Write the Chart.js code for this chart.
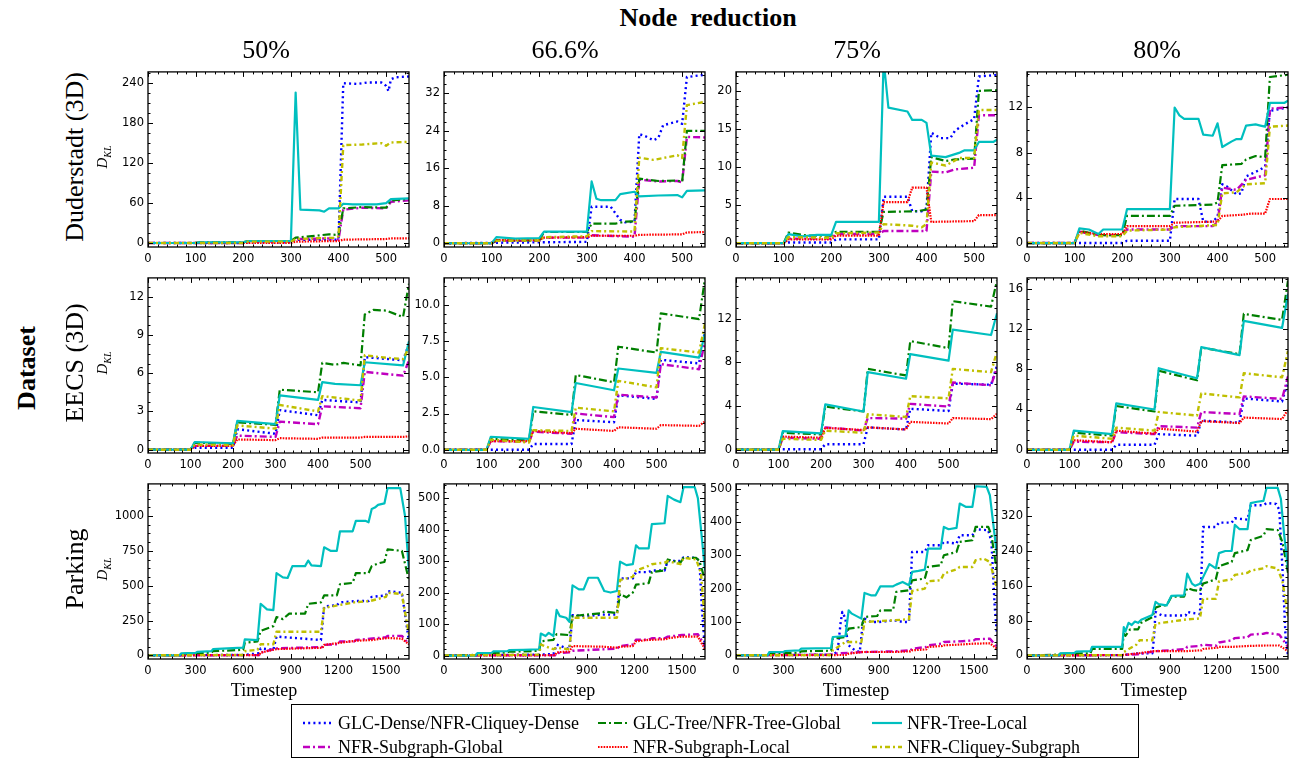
<!DOCTYPE html>
<html><head><meta charset="utf-8">
<script src="https://cdn.jsdelivr.net/npm/chart.js@4.4.1/dist/chart.umd.min.js"></script>
<style>
html,body{margin:0;padding:0;background:#fff;}
body{width:1297px;height:762px;position:relative;overflow:hidden;font-family:"Liberation Serif","Times New Roman",serif;color:#000;}
canvas{position:absolute;}
.t{position:absolute;white-space:nowrap;transform:translate(-50%,-50%);line-height:1;}
.r{transform:translate(-50%,-50%) rotate(-90deg);}
#legend{position:absolute;left:291px;top:704px;width:846px;height:52px;border:1px solid #000;background:#fff;}
.li{position:absolute;font-size:18px;line-height:1;white-space:nowrap;}
.li svg{position:absolute;left:0;top:-1px;}
.li span{position:absolute;left:36px;top:0;}
</style></head><body>
<script>
// ---------------- DATA ----------------
// tick values
const xTicksRow1 = [0,100,200,300,400,500];
const xTicksRow2 = [0,100,200,300,400,500];
const xTicksRow3 = [0,300,600,900,1200,1500];
const yTicksD50 = [0,60,120,180,240];
const yTicksD66 = [0,8,16,24,32];
const yTicksD75 = [0,5,10,15,20];
const yTicksD80 = [0,4,8,12];
const yTicksE50 = [0,3,6,9,12];
const yTicksE66 = [0,2.5,5,7.5,10];
const yTicksE75 = [0,4,8,12];
const yTicksE80 = [0,4,8,12,16];
const yTicksP50 = [0,250,500,750,1000];
const yTicksP66 = [0,100,200,300,400,500];
const yTicksP75 = [0,100,200,300,400,500];
const yTicksP80 = [0,80,160,240,320];

// Duderstadt 50%
const d50_dense = [[0,0],[200,0],[210,1],[300,1],[310,5],[400,5],[410,240],[440,239],[460,241],[490,241],[500,236],[505,228],[510,246],[520,249],[548,250]];
const d50_subG  = [[0,0],[200,0],[210,2],[300,2],[310,6],[390,7],[400,5],[410,50],[450,53],[500,52],[510,62],[548,64]];
const d50_treeG = [[0,0],[100,0],[110,1],[200,1],[210,3],[300,3],[310,8],[380,13],[400,12],[410,52],[450,54],[500,53],[510,64],[548,66]];
const d50_subL  = [[0,0],[300,0],[310,2],[400,3],[410,5],[500,6],[510,7],[548,7]];
const d50_treeL = [[0,0],[100,0],[110,1],[200,1],[210,3],[300,3],[310,226],[320,50],[360,49],[370,47],[380,52],[400,52],[410,59],[430,58],[480,58],[500,60],[510,66],[548,67]];
const d50_clq   = [[0,0],[200,0],[210,2],[300,2],[310,6],[390,8],[400,10],[410,147],[450,148],[490,150],[500,146],[510,151],[548,152]];
// Duderstadt 66.6%
const d66_dense = [[0,0],[300,0.3],[310,7.8],[350,7.8],[370,5],[380,4.5],[400,4.6],[410,23.3],[420,23],[440,22],[450,22.5],[460,25.2],[490,26],[500,25.5],[510,35.5],[548,36]];
const d66_subG  = [[0,0],[100,0],[110,0.5],[200,0.5],[210,1.2],[300,1.2],[310,1.7],[400,1.4],[410,13.6],[450,13.2],[490,13.3],[500,13],[510,22.7],[548,22.6]];
const d66_treeG = [[0,0],[100,0],[110,0.6],[200,0.6],[210,2.4],[300,2.4],[310,4.2],[360,4.2],[380,4.6],[400,4.7],[410,13.8],[450,13.3],[490,13.4],[500,13.1],[510,24],[548,24]];
const d66_subL  = [[0,0],[100,0],[110,0.7],[200,0.7],[210,1.2],[300,1.3],[310,1.6],[400,1.6],[410,1.8],[500,1.9],[510,2.3],[548,2.4]];
const d66_treeL = [[0,0],[100,0],[110,1.3],[150,1.0],[200,1.1],[210,2.5],[300,2.5],[310,13.2],[320,9.5],[330,9.2],[360,9.2],[370,10.5],[400,11],[410,10],[450,10.2],[490,10.3],[500,9.8],[510,11.2],[548,11.3]];
const d66_clq   = [[0,0],[100,0],[110,0.5],[200,0.6],[210,1.3],[300,1.5],[310,2.6],[400,2.5],[410,18.3],[440,17.8],[490,18.8],[500,18.2],[510,29.5],[548,30.2]];
// Duderstadt 75%
const d75_dense = [[0,0],[100,0],[110,0.1],[200,0.1],[210,0.5],[300,0.5],[310,6.1],[360,6.1],[370,4.2],[390,4.2],[400,4.6],[410,14.5],[430,13.8],[450,13.8],[460,14.8],[480,15.6],[500,16.3],[510,21.9],[548,22.1]];
const d75_subG  = [[0,0],[100,0],[110,0.6],[200,0.6],[210,1.2],[300,1.2],[310,1.6],[400,1.6],[410,9.4],[440,9.3],[460,9.7],[500,9.9],[510,16.8],[548,16.8]];
const d75_treeG = [[0,0],[100,0],[110,1.4],[150,1.0],[200,1.0],[210,1.5],[300,1.5],[310,4.1],[380,4.2],[400,4.4],[410,11.3],[440,10.8],[460,11.0],[500,11.1],[510,20],[548,20.1]];
const d75_subL  = [[0,0],[100,0],[110,0.5],[200,0.5],[210,1.0],[300,1.0],[310,5.4],[360,5.4],[370,7.3],[400,7.3],[410,2.8],[500,2.9],[510,3.7],[548,3.7]];
const d75_treeL = [[0,0],[100,0],[110,1.2],[140,0.9],[170,1.1],[200,1.1],[210,2.8],[300,2.8],[310,24],[320,17.8],[360,17.3],[370,16.2],[390,16.2],[400,15.8],[410,11.5],[440,11.3],[470,11.9],[480,12.2],[500,12.2],[510,13.3],[540,13.3],[548,13.6]];
const d75_clq   = [[0,0],[100,0],[110,0.8],[200,0.7],[210,1.3],[300,1.4],[310,2.5],[370,2.3],[390,2.1],[400,2.5],[410,10.6],[440,10.2],[470,11.2],[500,11.2],[510,17.5],[548,17.5]];
// Duderstadt 80%
const d80_dense = [[0,0],[200,0],[210,0.2],[300,0.2],[310,3.9],[360,3.9],[370,1.9],[390,1.9],[400,2.3],[410,5.2],[420,5.0],[440,4.3],[450,4.4],[460,5.9],[490,6.5],[500,6.8],[510,11.7],[548,12]];
const d80_subG  = [[0,0],[100,0],[110,1.0],[150,0.7],[200,0.7],[210,1.2],[300,1.2],[310,1.5],[390,1.5],[400,1.8],[410,4.9],[440,4.7],[460,5.6],[480,5.8],[500,6.0],[510,11.9],[548,12]];
const d80_treeG = [[0,0],[100,0],[110,1.1],[150,0.7],[200,0.7],[210,2.4],[300,2.4],[310,3.3],[390,3.4],[400,3.6],[410,6.9],[450,7.0],[460,7.4],[480,7.7],[500,7.6],[510,14.7],[548,14.9]];
const d80_subL  = [[0,0],[100,0],[110,1.0],[150,0.8],[200,0.8],[210,1.5],[300,1.5],[310,1.8],[400,1.9],[410,2.4],[450,2.5],[470,2.6],[500,2.6],[510,3.9],[548,3.9]];
const d80_treeL = [[0,0],[100,0],[110,1.3],[130,1.2],[150,0.8],[160,1.2],[200,1.2],[210,3.0],[300,3.0],[310,12.0],[320,11.3],[330,11.0],[360,11.0],[370,9.6],[390,9.5],[400,10.6],[410,8.5],[430,9.0],[440,9.2],[450,9.2],[460,10.4],[480,10.5],[490,10.4],[500,10.3],[510,12.4],[540,12.4],[548,12.6]];
const d80_clq   = [[0,0],[100,0],[110,0.9],[150,0.6],[200,0.6],[210,1.1],[300,1.2],[310,1.4],[400,1.6],[410,4.4],[440,4.5],[460,5.2],[500,5.3],[510,10.3],[548,10.4]];
// EECS 50%
const e50_dense = [[0,0],[100,0],[110,0.15],[200,0.15],[210,1.6],[300,1.25],[310,3.1],[400,2.7],[410,3.9],[500,3.7],[510,7.25],[600,7.0],[614,8.3]];
const e50_subG  = [[0,0],[100,0],[110,0.3],[200,0.3],[210,1.1],[300,1.0],[310,2.2],[400,2.0],[410,3.4],[500,3.25],[510,6.1],[600,5.8],[614,7.0]];
const e50_treeG = [[0,0],[100,0],[110,0.55],[200,0.45],[210,2.15],[300,1.95],[310,4.7],[400,4.5],[410,6.8],[440,6.65],[460,6.8],[500,6.6],[510,10.6],[530,10.95],[560,10.9],[600,10.4],[614,13]];
const e50_subL  = [[0,0],[100,0],[110,0.3],[200,0.3],[210,0.8],[300,0.75],[310,0.9],[400,0.85],[410,0.95],[500,0.95],[510,1.0],[600,1.0],[614,1.05]];
const e50_treeL = [[0,0],[100,0],[110,0.6],[200,0.5],[210,2.25],[300,2.0],[310,4.25],[400,3.9],[410,5.3],[440,5.15],[500,5.05],[510,6.85],[600,6.6],[614,8.5]];
const e50_clq   = [[0,0],[100,0],[110,0.4],[200,0.35],[210,1.9],[300,1.65],[310,3.5],[400,3.0],[410,4.2],[500,3.85],[510,7.4],[560,7.2],[600,7.1],[614,8.0]];
// EECS 66.6%
const e66_dense = [[0,0],[200,0],[210,0.4],[300,0.4],[310,2.05],[400,1.9],[410,3.75],[500,3.5],[510,6.2],[600,5.95],[614,8.2]];
const e66_subG  = [[0,0],[100,0],[110,0.6],[200,0.55],[210,1.25],[300,1.1],[310,2.5],[400,2.25],[410,3.8],[500,3.6],[510,5.9],[600,5.55],[614,7.5]];
const e66_treeG = [[0,0],[100,0],[110,0.75],[200,0.65],[210,2.65],[300,2.4],[310,5.15],[400,4.65],[410,7.1],[500,6.7],[510,9.4],[600,9.0],[614,11.8]];
const e66_subL  = [[0,0],[100,0],[110,0.6],[200,0.6],[210,1.3],[300,1.15],[310,1.45],[400,1.3],[410,1.55],[500,1.45],[510,1.7],[600,1.65],[614,1.95]];
const e66_treeL = [[0,0],[100,0],[110,0.9],[200,0.75],[210,2.95],[300,2.6],[310,4.6],[400,4.1],[410,5.6],[500,5.3],[510,6.75],[600,6.35],[614,8.0]];
const e66_clq   = [[0,0],[100,0],[110,0.7],[200,0.5],[210,1.35],[300,1.3],[310,2.9],[400,2.65],[410,4.75],[500,4.3],[510,7.0],[600,6.7],[614,8.7]];
// EECS 75%
const e75_dense = [[0,0],[100,0],[110,0.05],[200,0.05],[210,0.5],[300,0.5],[310,2.05],[400,1.85],[410,3.75],[500,3.55],[510,6.05],[600,5.95],[614,7.7]];
const e75_subG  = [[0,0],[100,0],[110,1.1],[200,1.0],[210,2.05],[300,1.75],[310,2.9],[400,2.85],[410,4.2],[500,3.95],[510,6.15],[600,5.9],[614,7.5]];
const e75_treeG = [[0,0],[100,0],[110,1.55],[200,1.4],[210,3.95],[300,3.5],[310,7.4],[400,6.8],[410,9.95],[500,9.3],[510,13.6],[600,13.1],[614,15.5]];
const e75_subL  = [[0,0],[100,0],[110,1.2],[200,1.1],[210,2.0],[300,1.8],[310,2.05],[400,1.85],[410,2.55],[500,2.4],[510,2.9],[600,2.8],[614,3.3]];
const e75_treeL = [[0,0],[100,0],[110,1.7],[200,1.5],[210,4.15],[300,3.5],[310,7.1],[400,6.5],[410,8.75],[500,8.15],[510,11.0],[600,10.5],[614,12.5]];
const e75_clq   = [[0,0],[100,0],[110,1.0],[200,0.9],[210,1.75],[300,1.55],[310,3.25],[400,3.0],[410,4.9],[500,4.7],[510,7.4],[600,7.1],[614,9.0]];
// EECS 80%
const e80_dense = [[0,0],[200,0],[210,0.5],[300,0.5],[310,1.55],[400,1.4],[410,2.9],[500,2.7],[510,5.1],[600,4.8],[614,6.8]];
const e80_subG  = [[0,0],[100,0],[110,0.8],[200,0.75],[210,1.75],[300,1.55],[310,2.35],[400,2.2],[410,3.75],[500,3.55],[510,5.3],[600,5.05],[614,7.3]];
const e80_treeG = [[0,0],[100,0],[110,1.7],[200,1.4],[210,4.35],[300,3.8],[310,7.85],[400,6.9],[410,10.15],[500,9.5],[510,13.5],[600,12.9],[614,16.8]];
const e80_subL  = [[0,0],[100,0],[110,0.95],[200,0.75],[210,1.9],[300,1.6],[310,2.1],[400,1.8],[410,2.85],[500,2.65],[510,3.2],[600,3.05],[614,4.0]];
const e80_treeL = [[0,0],[100,0],[110,1.9],[200,1.55],[210,4.6],[300,4.0],[310,8.1],[400,7.1],[410,10.2],[500,9.4],[510,12.8],[600,12.1],[614,15.5]];
const e80_clq   = [[0,0],[100,0],[110,1.4],[200,1.1],[210,2.2],[300,1.9],[310,3.75],[400,3.4],[410,5.6],[500,5.2],[510,7.6],[600,7.2],[614,9.8]];
// Parking 50%
const p50_dense = [[0,0],[600,3],[700,15],[710,50],[790,40],[810,135],[1090,110],[1110,350],[1190,360],[1210,380],[1310,390],[1390,390],[1410,420],[1500,430],[1510,460],[1600,450],[1645,100]];
const p50_subG  = [[0,0],[700,2],[710,20],[810,50],[1100,60],[1110,75],[1200,80],[1210,100],[1300,100],[1310,110],[1500,130],[1510,140],[1600,140],[1645,80]];
const p50_treeG = [[0,0],[200,3],[210,10],[400,20],[410,30],[600,40],[610,90],[690,100],[710,175],[790,210],[810,275],[850,260],[890,300],[990,300],[1010,370],[1090,380],[1110,430],[1190,430],[1210,510],[1290,520],[1310,590],[1390,590],[1410,640],[1450,660],[1490,670],[1510,760],[1600,750],[1645,540]];
const p50_subL  = [[0,0],[700,2],[710,20],[810,45],[1100,55],[1110,75],[1210,90],[1310,105],[1410,110],[1510,125],[1600,120],[1645,80]];
const p50_treeL = [[0,0],[200,0],[210,15],[300,18],[310,25],[400,30],[410,45],[500,50],[600,55],[610,115],[690,110],[710,370],[750,330],[790,325],[810,590],[850,560],[880,555],[910,640],[990,640],[1010,680],[1030,645],[1090,640],[1110,775],[1150,750],[1190,750],[1210,890],[1290,890],[1310,965],[1370,965],[1390,955],[1410,1050],[1430,1060],[1450,1080],[1490,1090],[1510,1200],[1590,1200],[1620,1000],[1645,600]];
const p50_clq   = [[0,0],[600,3],[610,30],[690,40],[710,80],[790,80],[810,170],[1090,170],[1110,340],[1200,360],[1300,380],[1400,390],[1500,420],[1510,450],[1600,440],[1645,150]];
// Parking 66.6%
const p66_dense = [[0,0],[600,3],[690,5],[710,35],[790,20],[810,128],[900,125],[1000,130],[1090,130],[1110,245],[1190,245],[1210,265],[1290,265],[1310,270],[1390,270],[1410,300],[1490,300],[1510,312],[1590,310],[1610,300],[1625,150],[1645,20]];
const p66_subG  = [[0,0],[700,1],[710,8],[790,10],[810,15],[1090,22],[1110,30],[1190,35],[1210,50],[1290,50],[1310,55],[1390,55],[1410,60],[1500,65],[1600,68],[1645,30]];
const p66_treeG = [[0,0],[200,2],[210,5],[400,10],[410,12],[600,15],[610,45],[690,50],[710,68],[790,65],[810,125],[900,130],[1000,135],[1010,140],[1090,135],[1110,195],[1150,185],[1190,200],[1210,225],[1290,230],[1310,265],[1390,270],[1410,305],[1490,295],[1510,310],[1590,310],[1610,300],[1645,240]];
const p66_subL  = [[0,0],[700,1],[710,10],[790,13],[810,30],[1000,28],[1090,25],[1110,28],[1190,30],[1210,45],[1290,50],[1310,50],[1400,52],[1410,55],[1500,60],[1600,60],[1645,20]];
const p66_treeL = [[0,0],[200,0],[210,8],[300,8],[310,13],[400,14],[410,17],[500,18],[600,20],[610,70],[640,62],[660,72],[690,62],[710,145],[730,125],[770,120],[790,107],[810,223],[850,210],[880,210],[910,247],[970,247],[1010,205],[1050,200],[1090,205],[1110,298],[1150,287],[1190,290],[1210,350],[1230,340],[1290,340],[1310,417],[1390,420],[1410,507],[1450,495],[1490,487],[1510,535],[1580,535],[1600,500],[1620,400],[1645,270]];
const p66_clq   = [[0,0],[600,3],[610,35],[690,20],[710,25],[790,20],[810,120],[1090,120],[1110,240],[1190,250],[1210,270],[1290,285],[1310,290],[1390,295],[1410,300],[1490,290],[1510,310],[1590,305],[1620,260],[1645,100]];
// Parking 75%
const p75_dense = [[0,0],[600,2],[640,10],[660,100],[670,130],[690,110],[700,50],[710,30],[750,15],[780,10],[800,100],[810,110],[850,100],[900,100],[1000,105],[1050,100],[1090,100],[1110,310],[1190,310],[1210,330],[1290,330],[1310,340],[1390,335],[1410,360],[1490,360],[1510,378],[1590,375],[1610,340],[1630,150],[1645,60]];
const p75_subG  = [[0,0],[600,2],[610,5],[800,10],[1000,12],[1100,15],[1110,20],[1200,25],[1210,30],[1300,35],[1310,40],[1410,42],[1500,45],[1510,48],[1600,50],[1645,25]];
const p75_treeG = [[0,0],[200,1],[210,5],[400,8],[410,12],[600,14],[610,50],[690,55],[710,80],[790,85],[810,115],[890,118],[910,135],[990,135],[1010,190],[1090,195],[1110,225],[1190,230],[1210,265],[1290,270],[1310,300],[1390,310],[1410,340],[1490,345],[1510,385],[1590,385],[1610,360],[1645,250]];
const p75_subL  = [[0,0],[700,1],[710,5],[800,10],[1000,10],[1100,12],[1110,15],[1200,18],[1210,25],[1300,28],[1310,30],[1400,32],[1500,35],[1600,36],[1645,20]];
const p75_treeL = [[0,0],[200,0],[210,10],[300,10],[310,13],[400,15],[410,20],[600,22],[610,55],[690,58],[710,135],[730,125],[790,110],[810,187],[850,180],[880,180],[910,207],[990,207],[1010,212],[1050,220],[1090,210],[1110,250],[1150,253],[1190,257],[1210,320],[1290,320],[1310,385],[1340,378],[1390,382],[1410,455],[1450,445],[1490,445],[1510,507],[1580,505],[1600,480],[1620,400],[1645,300]];
const p75_clq   = [[0,0],[600,1],[610,15],[690,40],[710,40],[790,40],[810,100],[1090,108],[1110,193],[1190,200],[1210,222],[1290,225],[1310,245],[1390,258],[1410,265],[1490,265],[1510,285],[1560,290],[1600,280],[1645,200]];
// Parking 80%
const p80_dense = [[0,0],[600,1],[700,5],[790,5],[800,40],[810,100],[850,92],[1000,92],[1010,100],[1090,95],[1110,295],[1190,295],[1210,305],[1290,305],[1310,315],[1390,312],[1410,345],[1490,345],[1510,350],[1570,348],[1590,335],[1610,200],[1630,40],[1645,0]];
const p80_subG  = [[0,0],[600,1],[700,3],[810,10],[900,12],[1000,15],[1010,20],[1090,22],[1110,25],[1190,22],[1210,30],[1290,35],[1310,40],[1390,42],[1410,48],[1490,50],[1510,52],[1590,48],[1645,20]];
const p80_treeG = [[0,0],[200,2],[210,4],[400,5],[410,15],[600,15],[610,50],[620,45],[650,60],[700,60],[720,75],[790,88],[810,110],[850,115],[880,115],[910,135],[990,135],[1010,155],[1050,150],[1090,148],[1110,165],[1190,175],[1210,205],[1290,215],[1310,235],[1390,242],[1410,265],[1490,275],[1510,290],[1580,288],[1610,260],[1645,190]];
const p80_subL  = [[0,0],[600,1],[700,5],[800,10],[1000,10],[1100,12],[1110,15],[1200,18],[1210,20],[1300,20],[1400,22],[1500,23],[1590,23],[1645,10]];
const p80_treeL = [[0,0],[200,0],[210,5],[300,6],[310,9],[400,10],[410,20],[600,20],[610,65],[620,55],[640,75],[660,70],[680,78],[700,75],[720,82],[790,93],[810,123],[830,118],[880,115],[910,137],[990,138],[1010,188],[1040,165],[1060,160],[1090,165],[1110,180],[1150,210],[1190,200],[1210,235],[1250,240],[1290,240],[1310,300],[1340,290],[1390,290],[1410,350],[1450,353],[1490,355],[1510,385],[1580,385],[1600,360],[1620,280],[1645,200]];
const p80_clq   = [[0,0],[600,1],[610,8],[690,25],[710,35],[790,35],[810,73],[990,82],[1010,83],[1090,85],[1110,130],[1190,130],[1210,170],[1290,175],[1310,185],[1390,190],[1410,195],[1490,200],[1510,205],[1580,200],[1610,170],[1645,90]];

const seriesNames = ['GLC-Dense/NFR-Cliquey-Dense','NFR-Subgraph-Global','GLC-Tree/NFR-Tree-Global','NFR-Subgraph-Local','NFR-Tree-Local','NFR-Cliquey-Subgraph'];
const colTitles = ['50%','66.6%','75%','80%'];
const rowTitles = ['Duderstadt (3D)','EECS (3D)','Parking'];

// ---------------- STYLE / LAYOUT ----------------
const seriesStyle = [
  {color:'#0000ff', width:2.4, dash:[2,3.2]},
  {color:'#bf00bf', width:2.4, dash:[7,3,2,3]},
  {color:'#007f00', width:2.2, dash:[8,3,2,3]},
  {color:'#ff0000', width:2.2, dash:[1.6,1.2]},
  {color:'#00bfbf', width:2.2, dash:[]},
  {color:'#bfbf00', width:2.4, dash:[5,3,2,3]}
];
const colLeft = [148,444,736,1027];
const rowTop = [67,273,479];
const plotW = 261, plotH = 180;
const xMaxRow = [548,614,1645];

const panels = [
  {r:0,c:0,s:[d50_dense,d50_subG,d50_treeG,d50_subL,d50_treeL,d50_clq],xt:xTicksRow1,yt:yTicksD50,ymin:-6,ymax:257,dec:0},
  {r:0,c:1,s:[d66_dense,d66_subG,d66_treeG,d66_subL,d66_treeL,d66_clq],xt:xTicksRow1,yt:yTicksD66,ymin:-0.8,ymax:36.6,dec:0},
  {r:0,c:2,s:[d75_dense,d75_subG,d75_treeG,d75_subL,d75_treeL,d75_clq],xt:xTicksRow1,yt:yTicksD75,ymin:-0.5,ymax:22.5,dec:0},
  {r:0,c:3,s:[d80_dense,d80_subG,d80_treeG,d80_subL,d80_treeL,d80_clq],xt:xTicksRow1,yt:yTicksD80,ymin:-0.35,ymax:15.15,dec:0},
  {r:1,c:0,s:[e50_dense,e50_subG,e50_treeG,e50_subL,e50_treeL,e50_clq],xt:xTicksRow2,yt:yTicksE50,ymin:-0.26,ymax:13.46,dec:0},
  {r:1,c:1,s:[e66_dense,e66_subG,e66_treeG,e66_subL,e66_treeL,e66_clq],xt:xTicksRow2,yt:yTicksE66,ymin:-0.22,ymax:11.84,dec:1},
  {r:1,c:2,s:[e75_dense,e75_subG,e75_treeG,e75_subL,e75_treeL,e75_clq],xt:xTicksRow2,yt:yTicksE75,ymin:-0.3,ymax:15.73,dec:0},
  {r:1,c:3,s:[e80_dense,e80_subG,e80_treeG,e80_subL,e80_treeL,e80_clq],xt:xTicksRow2,yt:yTicksE80,ymin:-0.32,ymax:17.07,dec:0},
  {r:2,c:0,s:[p50_dense,p50_subG,p50_treeG,p50_subL,p50_treeL,p50_clq],xt:xTicksRow3,yt:yTicksP50,ymin:-26,ymax:1230,dec:0},
  {r:2,c:1,s:[p66_dense,p66_subG,p66_treeG,p66_subL,p66_treeL,p66_clq],xt:xTicksRow3,yt:yTicksP66,ymin:-11,ymax:545,dec:0},
  {r:2,c:2,s:[p75_dense,p75_subG,p75_treeG,p75_subL,p75_treeL,p75_clq],xt:xTicksRow3,yt:yTicksP75,ymin:-11,ymax:514,dec:0},
  {r:2,c:3,s:[p80_dense,p80_subG,p80_treeG,p80_subL,p80_treeL,p80_clq],xt:xTicksRow3,yt:yTicksP80,ymin:-8,ymax:394,dec:0}
];

function ndivs(step){
  const m = Math.pow(10, ((Math.log10(step)%1)+1)%1);
  return (Math.abs(m-1)<1e-6 || Math.abs(m-5)<1e-6 || Math.abs(m-10)<1e-6) ? 5 : 4;
}
const frameTicks = {
  id:'frameTicks',
  afterDraw(chart){
    const {ctx, chartArea:a, scales:{x,y}} = chart;
    const xt = chart.options.plugins.frameTicks.xt, yt = chart.options.plugins.frameTicks.yt;
    ctx.save();
    ctx.strokeStyle = '#000'; ctx.lineWidth = 1;
    ctx.beginPath();
    const xs = xt[1]-xt[0], ys = yt[1]-yt[0];
    const xn = ndivs(xs), yn = ndivs(ys);
    for (let v = xt[0] - xs; v <= x.max + 1e-9; v += xs/xn) {
      if (v < x.min - 1e-9) continue;
      const k = Math.round((v - xt[0]) / (xs/xn));
      const len = (k % xn === 0) ? 5 : 2.5;
      const px = Math.round(x.getPixelForValue(v)) + 0.5;
      ctx.moveTo(px, a.bottom); ctx.lineTo(px, a.bottom - len);
      ctx.moveTo(px, a.top); ctx.lineTo(px, a.top + len);
    }
    for (let v = yt[0] - ys; v <= y.max + 1e-9; v += ys/yn) {
      if (v < y.min - 1e-9) continue;
      const k = Math.round((v - yt[0]) / (ys/yn));
      const len = (k % yn === 0) ? 5 : 2.5;
      const py = Math.round(y.getPixelForValue(v)) + 0.5;
      ctx.moveTo(a.left, py); ctx.lineTo(a.left + len, py);
      ctx.moveTo(a.right, py); ctx.lineTo(a.right - len, py);
    }
    ctx.stroke();
    ctx.lineWidth = 1.3;
    ctx.strokeRect(a.left, a.top, a.right - a.left, a.bottom - a.top);
    ctx.restore();
  }
};

const PL = 46, PT = 6, PR = 6, PB = 24;
panels.forEach(p => {
  const cv = document.createElement('canvas');
  const W = plotW + PL + PR, H = plotH + PT + PB;
  cv.width = W; cv.height = H;
  cv.style.width = W + 'px'; cv.style.height = H + 'px';
  cv.style.left = (colLeft[p.c] - PL) + 'px';
  cv.style.top = (rowTop[p.r] - PT) + 'px';
  document.body.appendChild(cv);
  const order = [5,4,3,2,1,0]; // later series drawn on top
  const datasets = order.map(i => ({
    label: seriesNames[i],
    data: p.s[i].map(pt => ({x: pt[0], y: pt[1]})),
    showLine: true, borderColor: seriesStyle[i].color, borderWidth: seriesStyle[i].width,
    borderDash: seriesStyle[i].dash, pointRadius: 0, pointHoverRadius: 0, fill: false, tension: 0,
    borderCapStyle: 'butt', borderJoinStyle: 'round'
  }));
  const tickFont = {family:'"DejaVu Sans", sans-serif', size:11.5};
  new Chart(cv, {
    type: 'scatter',
    data: {datasets},
    options: {
      responsive:false, maintainAspectRatio:false, animation:false, events:[],
      layout:{padding:{left:0, top:PT, right:PR, bottom:0}},
      plugins:{legend:{display:false}, tooltip:{enabled:false}, frameTicks:{xt:p.xt, yt:p.yt}},
      scales:{
        x:{type:'linear', min:0, max:xMaxRow[p.r],
           grid:{display:false, drawTicks:false}, border:{display:false},
           ticks:{font:tickFont, color:'#000', padding:5, autoSkip:false, maxRotation:0, callback:v=>String(v)},
           afterBuildTicks: s => { s.ticks = p.xt.map(v => ({value:v})); },
           afterFit: s => { s.height = PB; }},
        y:{type:'linear', min:p.ymin, max:p.ymax,
           grid:{display:false, drawTicks:false}, border:{display:false},
           ticks:{font:tickFont, color:'#000', padding:4, autoSkip:false, callback:v=>Number(v).toFixed(p.dec)},
           afterBuildTicks: s => { s.ticks = p.yt.map(v => ({value:v})); },
           afterFit: s => { s.width = PL; }}
      }
    },
    plugins:[frameTicks]
  });
});

// ---------------- TEXT ----------------
function addText(html, x, y, style, rot){
  const d = document.createElement('div');
  d.className = 't' + (rot ? ' r' : '');
  d.style.left = x + 'px'; d.style.top = y + 'px';
  d.style.cssText += style;
  d.innerHTML = html;
  document.body.appendChild(d);
}
addText('Node&nbsp; reduction', 708, 18, 'font-size:26px;font-weight:bold;');
const titleX = [266, 565, 857, 1157];
colTitles.forEach((t,i) => addText(t, titleX[i], 50, 'font-size:26px;'));
addText('Dataset', 27, 368, 'font-size:26px;font-weight:bold;', true);
const rowY = [157, 363, 569];
rowTitles.forEach((t,i) => {
  addText(t, 75, rowY[i], 'font-size:26px;', true);
  addText('<i>D</i><sub style="font-size:10px;font-style:italic;">KL</sub>', 104, rowY[i], 'font-size:15px;', true);
});
const tsX = [264, 562, 856, 1154];
tsX.forEach(x => addText('Timestep', x, 690, 'font-size:18px;'));

// ---------------- LEGEND ----------------
const leg = document.createElement('div'); leg.id = 'legend'; document.body.appendChild(leg);
const legPos = [[10,9],[10,33],[305,9],[305,33],[579,9],[579,33]];
seriesNames.forEach((n,i) => {
  const st = seriesStyle[i];
  const d = document.createElement('div'); d.className = 'li';
  d.style.left = legPos[i][0] + 'px'; d.style.top = legPos[i][1] + 'px';
  d.innerHTML = '<svg width="32" height="20"><line x1="1" y1="10" x2="31" y2="10" stroke="' + st.color +
    '" stroke-width="' + st.width + '" stroke-dasharray="' + (st.dash.length ? st.dash.join(',') : 'none') + '"/></svg><span>' + n + '</span>';
  leg.appendChild(d);
});
</script>
</body></html>
